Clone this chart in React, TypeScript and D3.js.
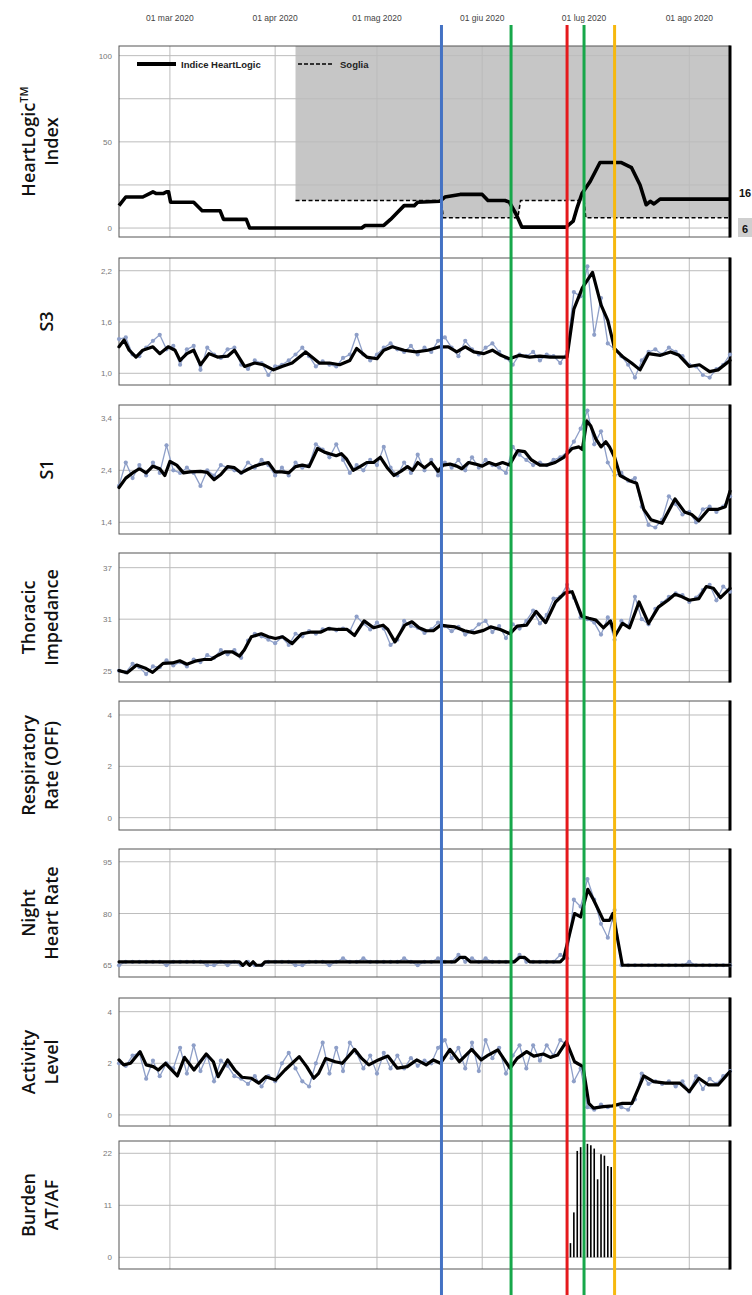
import React from 'react'
import * as d3 from 'd3'

// time axis: 15 feb 2020 -> 13 ago 2020, data given as day offsets from START
const START = new Date(2020, 1, 15)
const END = new Date(2020, 7, 13)
const day = (d: number) => new Date(START.getTime() + d * 86400000)

const monthTicks = ['2020-03-01', '2020-04-01', '2020-05-01', '2020-06-01', '2020-07-01', '2020-08-01']
const monthLabels = ['01 mar 2020', '01 apr 2020', '01 mag 2020', '01 giu 2020', '01 lug 2020', '01 ago 2020']

// coloured event markers (day offsets)
const markerDays = [95, 115.5, 132, 137, 146]
const markerColors = ['#4472c4', '#17a74a', '#e5191c', '#17a74a', '#f6b80f']

// HeartLogic index and threshold (soglia)
const indexPts: [number, number][] = [
  [0, 13], [2, 18], [7, 18], [9, 20], [10, 21], [11, 20], [13, 20], [14, 21], [14.6, 21], [15.2, 15],
  [22, 15], [24.5, 10], [29.8, 10], [30.8, 5], [37.5, 5], [38.5, 0], [71.5, 0], [72.5, 1.5], [78, 1.5],
  [80, 5], [82, 9], [84, 13], [87, 13], [88, 15], [94.5, 15.5], [96, 18], [100.5, 19.5], [107, 19.5],
  [108.7, 16], [113.7, 16], [115, 15], [117, 8], [118.7, 0.5], [131.7, 0.5], [133.8, 4], [135, 12],
  [136.4, 20], [138.8, 27], [141.7, 38], [148, 38], [151, 35], [153.5, 25], [155.3, 13.5], [156.5, 15.5],
  [157.6, 14], [159.4, 16.8], [180, 16.8]
]
const sogliaPts: [number, number][] = [
  [52, 16], [95, 16], [95.5, 6], [117.5, 6], [118.3, 16], [137, 16], [137.5, 6], [180, 6]
]

// raw daily values every 2 days (day 0,2,...,180)
const s3Raw = [
  1.40, 1.42, 1.22, 1.20, 1.30, 1.38, 1.45, 1.28, 1.32, 1.10,
  1.28, 1.32, 1.04, 1.30, 1.22, 1.18, 1.28, 1.30, 1.10, 1.05,
  1.15, 1.12, 0.98, 1.08, 1.10, 1.15, 1.22, 1.30, 1.20, 1.08,
  1.14, 1.10, 1.08, 1.18, 1.22, 1.45, 1.22, 1.15, 1.22, 1.30,
  1.35, 1.28, 1.25, 1.32, 1.22, 1.30, 1.25, 1.38, 1.42, 1.30,
  1.20, 1.38, 1.28, 1.22, 1.30, 1.35, 1.25, 1.18, 1.10, 1.22,
  1.20, 1.25, 1.15, 1.22, 1.20, 1.12, 1.25, 1.95, 1.90, 2.25,
  1.45, 1.88, 1.35, 1.28, 1.20, 1.10, 0.95, 1.15, 1.25, 1.28,
  1.22, 1.30, 1.25, 1.20, 1.10, 1.08, 0.98, 0.95, 1.05, 1.10,
  1.22
]
const s3Smooth: [number, number][] = [
  [0, 1.31], [1.5, 1.39], [3, 1.27], [5, 1.19], [7, 1.27], [10, 1.31], [12, 1.23], [14.5, 1.31], [16.5, 1.27],
  [18, 1.15], [20, 1.23], [22, 1.27], [24, 1.10], [26.5, 1.23], [29, 1.19], [32, 1.20], [34, 1.27], [37, 1.08],
  [40, 1.12], [42.5, 1.10], [45.5, 1.04], [48, 1.08], [51, 1.12], [55, 1.25], [59, 1.12], [62, 1.12], [65, 1.10],
  [68, 1.15], [70, 1.29], [73, 1.19], [76, 1.17], [78, 1.27], [80.5, 1.31], [84, 1.27], [87.5, 1.25], [91, 1.27],
  [94.5, 1.31], [97, 1.31], [99.5, 1.25], [102, 1.31], [104.5, 1.25], [107.5, 1.23], [110, 1.27], [112.5, 1.21],
  [115, 1.17], [118, 1.21], [121, 1.19], [124, 1.20], [127, 1.19], [132, 1.19], [134, 1.75], [136.5, 2.0],
  [139.5, 2.18], [142, 1.80], [144, 1.62], [146, 1.29], [148.5, 1.19], [151, 1.12], [153.5, 1.04], [156, 1.23],
  [159.5, 1.21], [162.5, 1.25], [165, 1.21], [168, 1.08], [171, 1.10], [174, 1.02], [176.5, 1.04], [180, 1.15]
]

const s1Raw = [
  2.10, 2.55, 2.25, 2.50, 2.30, 2.55, 2.35, 2.88, 2.40, 2.35,
  2.45, 2.35, 2.10, 2.40, 2.30, 2.50, 2.45, 2.40, 2.35, 2.55,
  2.45, 2.60, 2.50, 2.30, 2.45, 2.30, 2.55, 2.45, 2.50, 2.90,
  2.80, 2.65, 2.90, 2.60, 2.35, 2.50, 2.40, 2.60, 2.50, 2.85,
  2.45, 2.30, 2.55, 2.35, 2.70, 2.40, 2.60, 2.30, 2.55, 2.45,
  2.60, 2.40, 2.65, 2.45, 2.60, 2.50, 2.45, 2.35, 2.85, 2.70,
  2.60, 2.50, 2.55, 2.50, 2.60, 2.65, 2.75, 2.95, 3.20, 3.55,
  2.90, 3.15, 2.55, 2.30, 2.35, 2.20, 2.25, 1.70, 1.35, 1.30,
  1.45, 1.90, 1.75, 1.55, 1.60, 1.40, 1.65, 1.70, 1.60, 1.70,
  1.90
]
const s1Smooth: [number, number][] = [
  [0, 2.07], [2, 2.25], [4, 2.35], [6, 2.43], [8, 2.35], [10, 2.48], [12, 2.43], [13.5, 2.30], [15, 2.57],
  [17, 2.50], [19, 2.35], [21, 2.37], [24, 2.38], [26, 2.36], [28, 2.22], [30, 2.32], [32, 2.47], [34, 2.45],
  [36, 2.35], [38, 2.42], [40, 2.48], [42, 2.52], [44, 2.55], [46, 2.37], [48, 2.37], [50, 2.35], [52, 2.47],
  [54, 2.50], [56, 2.47], [58.5, 2.82], [60.5, 2.75], [62, 2.72], [64, 2.68], [65.5, 2.72], [67, 2.62],
  [69, 2.40], [71, 2.47], [73, 2.55], [75, 2.55], [77, 2.65], [79, 2.45], [81, 2.30], [83, 2.38], [85, 2.47],
  [86.5, 2.40], [88, 2.55], [90, 2.45], [92, 2.55], [94, 2.38], [95.5, 2.50], [97.5, 2.52], [99.5, 2.48],
  [101, 2.43], [103, 2.55], [105, 2.52], [107, 2.48], [109, 2.55], [111, 2.50], [113, 2.55], [115, 2.50],
  [117.5, 2.78], [119.5, 2.76], [121.5, 2.60], [124, 2.50], [126, 2.50], [128.5, 2.55], [131, 2.65],
  [133.5, 2.82], [135.5, 2.85], [136.5, 2.80], [137.8, 3.35], [139, 3.25], [140.5, 3.00], [142, 2.85],
  [143.4, 2.95], [144.5, 2.85], [146, 2.65], [147.6, 2.30], [150.4, 2.20], [152.5, 2.15], [154.6, 1.65],
  [156.7, 1.45], [160, 1.38], [163.8, 1.85], [166.6, 1.60], [168.7, 1.55], [170.8, 1.43], [173.7, 1.65],
  [176.5, 1.65], [178.6, 1.70], [180, 2.00]
]

const impRaw = [
  25.0, 24.8, 25.8, 25.4, 24.6, 25.5, 25.4, 26.2, 25.6, 26.0,
  25.5, 26.3, 26.0, 26.8, 26.5, 27.4, 26.9, 27.4, 26.5, 28.5,
  29.3, 29.0, 28.6, 28.2, 28.9, 28.0, 29.3, 29.0, 29.6, 29.3,
  29.8, 29.9, 29.7, 29.9, 29.6, 31.3, 30.5, 29.8, 30.6, 29.9,
  28.0, 28.6, 30.8, 30.2, 30.0, 29.4, 29.8, 30.6, 30.2, 29.6,
  30.1, 29.2, 29.6, 30.4, 30.8, 29.5, 30.2, 28.8, 30.4, 29.9,
  30.8, 32.0, 30.5, 31.5, 33.4, 33.6, 35.0, 33.5, 31.2, 31.0,
  30.6, 29.2, 31.2, 28.6, 30.8, 30.2, 33.6, 31.0, 30.4, 32.2,
  32.9, 33.6, 34.0, 33.8, 33.0, 33.5, 34.4, 35.0, 33.2, 34.8,
  34.2
]
const impSmooth: [number, number][] = [
  [0, 25.0], [2.4, 24.75], [5.2, 25.65], [8, 25.25], [9.9, 24.8], [13, 25.85], [15.8, 25.9], [17.9, 26.15],
  [20, 25.75], [22.8, 26.15], [25, 26.3], [27, 26.3], [29.2, 26.8], [31.3, 27.2], [33.4, 27.2], [35.5, 26.7],
  [36.9, 27.4], [39, 28.95], [41.9, 29.3], [44, 28.95], [46.1, 28.75], [48.2, 28.95], [51, 28.15], [53.8, 29.3],
  [56.7, 29.5], [59.5, 29.5], [61.6, 29.9], [64.4, 29.8], [67.2, 29.8], [69.4, 29.1], [72.2, 30.8], [75, 30.0],
  [77.8, 30.3], [79.2, 29.8], [81.3, 28.35], [84.2, 30.3], [86.3, 30.7], [88.4, 30.0], [90.5, 29.65],
  [92.6, 29.65], [94.7, 30.3], [96.8, 30.2], [99, 30.1], [101.8, 29.65], [104.6, 29.4], [107.4, 29.7],
  [109.5, 30.1], [112.3, 29.8], [115.2, 29.3], [117.3, 30.2], [120.1, 30.3], [122.9, 31.9], [125.7, 30.6],
  [128.6, 33.0], [131.4, 34.07], [133.5, 34.2], [136.3, 31.35], [138.4, 31.1], [140.5, 30.9], [142.7, 30.0],
  [144.8, 30.8], [146.2, 29.1], [148.3, 30.5], [150.4, 30.0], [153.2, 33.0], [156, 30.5], [158.9, 32.4],
  [161.7, 33.2], [163.8, 33.9], [165.9, 33.6], [168, 33.2], [170.8, 33.4], [173, 34.8], [175.1, 34.6],
  [177.2, 33.5], [180, 34.6]
]

const hrRaw = [
  65, 66, 66, 66, 66, 66, 66, 65, 66, 66,
  66, 66, 66, 65, 65, 66, 65, 66, 65, 66,
  65, 65, 66, 66, 66, 66, 65, 65, 66, 66,
  66, 65, 66, 67, 66, 66, 67, 66, 66, 66,
  66, 66, 67, 66, 65, 66, 66, 67, 66, 66,
  68, 66, 67, 66, 67, 66, 66, 66, 66, 68,
  66, 66, 66, 66, 66, 68, 67, 84, 82, 90,
  84, 77, 73, 81, 65, 65, 65, 65, 65, 65,
  65, 65, 65, 65, 66, 65, 65, 65, 65, 65,
  65
]
const hrSmooth: [number, number][] = [
  [0, 66], [35.5, 66], [36.5, 65], [37.5, 66], [38.5, 65], [39.5, 66], [40.5, 65], [42, 65], [43, 66],
  [99, 66], [100.5, 67.3], [102, 67.3], [103.5, 66], [116.5, 66], [118, 67.3], [119.5, 67.3], [121, 66],
  [130, 66], [131, 67], [134.2, 80], [136, 79], [138.1, 87], [139.8, 84], [142.7, 78], [144.5, 78],
  [145.5, 80], [148.3, 65], [180, 65]
]

const actRaw = [
  2.0, 1.9, 2.3, 2.4, 1.4, 2.1, 1.5, 2.0, 1.8, 2.6,
  1.6, 2.7, 1.7, 2.3, 1.3, 2.1, 1.9, 1.5, 1.4, 1.2,
  1.5, 1.1, 1.5, 1.3, 2.0, 2.4, 1.8, 1.3, 1.1, 2.0,
  2.8, 1.6, 2.6, 1.7, 2.8, 2.4, 1.8, 2.3, 1.6, 2.4,
  1.8, 2.3, 1.8, 2.2, 1.9, 2.1, 2.0, 2.6, 2.9, 2.2,
  2.6, 1.8, 2.8, 1.7, 2.9, 2.2, 2.6, 1.6, 2.3, 2.7,
  1.8, 2.7, 2.1, 2.7, 2.3, 2.9, 2.7, 1.3, 1.8, 0.3,
  0.2, 0.4, 0.3, 0.4, 0.3, 0.2, 0.6, 1.6, 1.2, 1.3,
  1.2, 1.3, 1.1, 1.3, 0.9, 1.5, 1.0, 1.4, 1.2, 1.5,
  1.7
]
const actSmooth: [number, number][] = [
  [0, 2.13], [1.4, 1.94], [3.4, 2.0], [6.2, 2.45], [8, 1.94], [10.1, 1.87], [11.6, 1.74], [13.7, 2.0],
  [17.2, 1.51], [19.3, 2.23], [22.1, 1.74], [25.7, 2.36], [27.8, 2.06], [29.2, 1.48], [32, 2.13], [34.1, 1.74],
  [36.2, 1.46], [39, 1.42], [41.2, 1.23], [43.3, 1.48], [46.1, 1.35], [48.9, 1.74], [53.1, 2.26], [55.3, 1.87],
  [57.4, 1.42], [58.8, 1.61], [60.9, 2.19], [63.7, 2.06], [65.8, 2.0], [69.4, 2.54], [71.5, 2.19], [73.6, 1.94],
  [76.4, 2.13], [79.2, 2.28], [82, 1.81], [84.9, 1.87], [87.7, 2.13], [90.5, 1.94], [92.6, 2.13], [94.7, 2.0],
  [97.5, 2.54], [100.3, 2.06], [103.9, 2.54], [106.7, 2.13], [108.8, 2.32], [111.6, 2.52], [115.2, 1.81],
  [117.3, 2.19], [120.1, 2.45], [122.2, 2.28], [125, 2.36], [127.1, 2.23], [129.2, 2.32], [131.8, 2.84],
  [134.2, 2.06], [136.7, 1.87], [138.4, 0.45], [139.8, 0.26], [142.7, 0.32], [145.5, 0.35], [148.3, 0.45],
  [151.1, 0.45], [154.6, 1.51], [157.5, 1.29], [161, 1.23], [165.2, 1.23], [168, 0.9], [170.8, 1.42],
  [173.7, 1.16], [176.5, 1.16], [180, 1.68]
]

// AT/AF burden, daily bars
const burdenDays = [133, 134, 135, 136, 137, 138, 139, 140, 141, 142, 143, 144, 145]
const burdenVals = [3, 9.5, 22.5, 23.3, 23.8, 24, 23.7, 23, 16.5, 21.8, 21.5, 19.3, 19.1]

const W = 752
const H = 1295
const X0 = 119
const X1 = 730
const GRID = '#bcbcbc'
const RAW = '#8e9fc8'
const LABEL_FONT = '"Open Sans", "Noto Sans", sans-serif'

const comma = (v: number) => d3.format('.1f')(v).replace('.', ',')

type PanelDef = {
  key: string
  top: number
  bottom: number
  domain: [number, number]
  ticks: number[]
  grid?: number[]
  fmt: (v: number) => string
  label: string[]
  raw?: number[]
  smooth?: [number, number][]
}

const panels: PanelDef[] = [
  { key: 'hl', top: 46, bottom: 237, domain: [-5.2, 105.6], ticks: [0, 50, 100], grid: [0, 25, 50, 75, 100], fmt: String, label: ['HeartLogic', 'Index'] },
  { key: 's3', top: 258, bottom: 385, domain: [0.863, 2.349], ticks: [1.0, 1.6, 2.2], fmt: comma, label: ['S3'], raw: s3Raw, smooth: s3Smooth },
  { key: 's1', top: 405, bottom: 534, domain: [1.175, 3.656], ticks: [1.4, 2.4, 3.4], fmt: comma, label: ['S1'], raw: s1Raw, smooth: s1Smooth },
  { key: 'imp', top: 553, bottom: 682, domain: [23.68, 38.71], ticks: [25, 31, 37], fmt: String, label: ['Thoracic', 'Impedance'], raw: impRaw, smooth: impSmooth },
  { key: 'rr', top: 701, bottom: 830, domain: [-0.48, 4.545], ticks: [0, 2, 4], fmt: String, label: ['Respiratory', 'Rate (OFF)'] },
  { key: 'hr', top: 849, bottom: 977, domain: [61.6, 98.7], ticks: [65, 80, 95], fmt: String, label: ['Night', 'Heart Rate'], raw: hrRaw, smooth: hrSmooth },
  { key: 'act', top: 998, bottom: 1126, domain: [-0.43, 4.53], ticks: [0, 2, 4], fmt: String, label: ['Activity', 'Level'], raw: actRaw, smooth: actSmooth },
  { key: 'af', top: 1141, bottom: 1269, domain: [-2.47, 24.6], ticks: [0, 11, 22], fmt: String, label: ['Burden', 'AT/AF'] }
]

function Panel({ p, x }: { p: PanelDef; x: d3.ScaleTime<number, number> }) {
  const y = d3.scaleLinear().domain(p.domain).range([p.bottom, p.top])
  const parse = d3.timeParse('%Y-%m-%d')
  const months = monthTicks.map(m => parse(m) as Date)
  const mid = (p.top + p.bottom) / 2
  const lineGen = d3.line<[number, number]>().x(d => x(day(d[0]))).y(d => y(d[1]))
  const rawPts: [number, number][] = p.raw ? p.raw.map((v, i) => [i * 2, v]) : []

  let extra: React.ReactNode = null
  if (p.key === 'hl') {
    const area = d3.area<[number, number]>().x(d => x(day(d[0]))).y0(p.top).y1(d => y(d[1]))
    extra = (
      <g>
        <path d={area(sogliaPts) || ''} fill="#c6c6c6" />
      </g>
    )
  }

  return (
    <g>
      <rect x={X0} y={p.top} width={X1 - X0} height={p.bottom - p.top} fill="#fff" />
      {extra}
      {(p.grid || p.ticks).map(t => (
        <line key={'h' + t} x1={X0} x2={X1} y1={y(t)} y2={y(t)} stroke={GRID} strokeWidth={1} />
      ))}
      {months.map((m, i) => (
        <line key={'v' + i} x1={x(m)} x2={x(m)} y1={p.top} y2={p.bottom} stroke={GRID} strokeWidth={1} />
      ))}
      <rect x={X0} y={p.top} width={X1 - X0} height={p.bottom - p.top} fill="none" stroke="#555" strokeWidth={1} />
      <line x1={X1} x2={X1} y1={p.top - 0.5} y2={p.bottom + 0.5} stroke="#000" strokeWidth={3} />
      {p.ticks.map(t => (
        <text key={'t' + t} x={112} y={y(t) + 3} textAnchor="end" fontSize={8} fill="#777">{p.fmt(t)}</text>
      ))}

      {p.key === 'hl' && (
        <g>
          <path d={lineGen(sogliaPts) || ''} fill="none" stroke="#000" strokeWidth={1.6} strokeDasharray="4,2.5" />
          <path d={lineGen(indexPts) || ''} fill="none" stroke="#000" strokeWidth={3.6} strokeLinejoin="round" />
          <line x1={137} x2={176} y1={64} y2={64} stroke="#000" strokeWidth={4} />
          <text x={181} y={67.5} fontSize={9.5} fontWeight="bold" fill="#222">Indice HeartLogic</text>
          <line x1={298} x2={334} y1={64} y2={64} stroke="#000" strokeWidth={1.6} strokeDasharray="4,2" />
          <text x={340} y={67.5} fontSize={9.5} fontWeight="bold" fill="#222">Soglia</text>
          <text x={739} y={197} fontSize={11} fontWeight="bold" fill="#111">16</text>
          <rect x={738} y={218} width={14} height={19} fill="#cfcfcf" />
          <text x={742} y={233} fontSize={11} fontWeight="bold" fill="#111">6</text>
        </g>
      )}

      {p.raw && (
        <g>
          <path d={lineGen(rawPts) || ''} fill="none" stroke={RAW} strokeWidth={1.3} />
          {rawPts.map((d, i) => (
            <circle key={i} cx={x(day(d[0]))} cy={y(d[1])} r={2.1} fill={RAW} />
          ))}
        </g>
      )}
      {p.smooth && (
        <path d={lineGen(p.smooth) || ''} fill="none" stroke="#000" strokeWidth={3.2} strokeLinejoin="round" strokeLinecap="round" />
      )}
      {p.key === 'af' && burdenDays.map((d, i) => (
        <rect key={i} x={x(day(d)) - 0.8} width={1.6} y={y(burdenVals[i])} height={y(0) - y(burdenVals[i])} fill="#000" />
      ))}

      {p.label.length === 1 ? (
        <text transform={`translate(53,${mid}) rotate(-90)`} textAnchor="middle" fontFamily={LABEL_FONT} fontWeight={600} fontSize={18} fill="#111">{p.label[0]}</text>
      ) : (
        <g>
          <text transform={`translate(35,${mid}) rotate(-90)`} textAnchor="middle" fontFamily={LABEL_FONT} fontWeight={600} fontSize={18} fill="#111">
            {p.label[0]}
            {p.key === 'hl' && <tspan fontSize={11} dy={-7}>TM</tspan>}
          </text>
          <text transform={`translate(58,${mid}) rotate(-90)`} textAnchor="middle" fontFamily={LABEL_FONT} fontWeight={600} fontSize={18} fill="#111">{p.label[1]}</text>
        </g>
      )}
    </g>
  )
}

export default function App() {
  const x = d3.scaleTime().domain([START, END]).range([X0, X1])
  const parse = d3.timeParse('%Y-%m-%d')

  return (
    <svg width={W} height={H} style={{ position: 'absolute', left: 0, top: 0, background: '#fff' }}
      fontFamily='"Liberation Sans", Arial, sans-serif'>
      <rect x={0} y={0} width={W} height={H} fill="#fff" />
      {monthTicks.map((m, i) => (
        <text key={m} x={x(parse(m) as Date)} y={21} textAnchor="middle" fontSize={8.5} fill="#444">{monthLabels[i]}</text>
      ))}
      {panels.map(p => <Panel key={p.key} p={p} x={x} />)}
      {markerDays.map((d, i) => (
        <line key={i} x1={x(day(d))} x2={x(day(d))} y1={25} y2={H} stroke={markerColors[i]} strokeWidth={3} />
      ))}
    </svg>
  )
}
